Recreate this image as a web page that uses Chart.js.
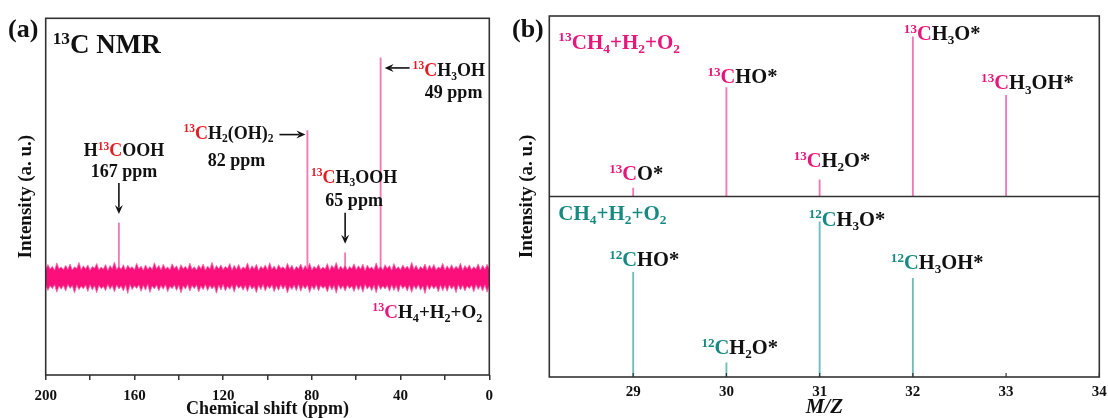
<!DOCTYPE html>
<html>
<head>
<meta charset="utf-8">
<script src="https://cdn.jsdelivr.net/npm/chart.js@4.4.1/dist/chart.umd.min.js"></script>
<style>
  html, body { margin: 0; padding: 0; background: #fff; }
  #wrap { position: relative; width: 1108px; height: 418px; }
  .panel { position: absolute; top: 0; height: 418px; }
  #panelA { left: 0; width: 500px; }
  #panelB { left: 500px; width: 608px; }
</style>
</head>
<body>
<div id="wrap">
  <div class="panel" id="panelA"><canvas id="nmrChart"></canvas></div>
  <div class="panel" id="panelB"><canvas id="msChart"></canvas></div>
</div>
<script>
// ---- (a) 13C NMR ----
const nmrShifts = [167, 82, 65, 49];          // ppm
const nmrHeights = [25, 67, 11.5, 100];       // a.u.
const nmrNames = ['H[^13C]OOH', '[^13C]H_2(OH)_2', '[^13C]H_3OOH', '[^13C]H_3OH'];
const nmrPpmText = ['167 ppm', '82 ppm', '65 ppm', '49 ppm'];

// baseline noise envelope, one value per ppm from 200 down to 0
const noiseUpper = [
  3.9,6.2,4.1,5.4,3.6,6.9,4.3,5.1,3.8,5.8,4.0,6.4,3.7,5.2,4.4,7.1,3.9,5.6,4.2,6.0,
  3.6,5.3,4.5,6.6,3.8,5.0,4.1,6.2,3.5,5.7,4.3,7.3,3.9,5.4,4.0,6.1,3.7,5.9,4.4,5.2,
  3.8,6.7,4.2,5.5,3.6,6.0,4.0,5.3,3.9,7.0,4.3,5.8,3.7,6.3,4.1,5.1,3.8,6.5,4.4,5.6,
  3.5,6.1,4.2,5.4,3.9,6.8,4.0,5.2,3.7,5.9,4.3,6.4,3.6,5.5,4.1,7.2,3.8,5.7,4.2,6.0,
  3.9,5.3,4.4,6.6,3.6,5.8,4.0,6.2,3.8,5.1,4.3,6.9,3.7,5.6,4.1,6.3,3.5,5.4,4.2,6.0,
  3.8,7.0,4.0,5.5,3.7,6.1,4.4,5.2,3.9,6.7,4.1,5.9,3.6,5.3,4.3,6.4,3.8,5.7,4.0,6.8,
  3.7,5.4,4.2,6.2,3.9,5.0,4.1,6.6,3.6,5.8,4.4,7.1,3.8,5.5,4.0,6.0,3.7,5.3,4.3,6.5,
  3.9,5.6,4.1,6.3,3.5,5.9,4.2,5.1,3.8,6.9,4.0,5.4,3.7,6.1,4.4,5.7,3.6,6.6,4.1,5.2,
  3.8,6.0,4.3,5.5,3.9,7.2,4.0,5.8,3.7,5.3,4.2,6.4,3.6,5.9,4.1,6.2,3.8,5.0,4.4,6.7,
  3.7,5.6,4.0,6.1,3.9,5.4,4.2,6.8,3.6,5.7,4.3,6.0,3.8,5.2,4.1,6.5,3.7,5.9,4.0,6.3,
  4.0
];
const noiseLower = [
  -3.2,-5.6,-3.5,-4.8,-3.0,-6.4,-3.6,-5.0,-3.3,-5.9,-2.9,-4.7,-3.4,-6.8,-3.1,-5.3,-3.7,-4.9,-3.2,-6.1,
  -3.0,-5.4,-3.5,-6.6,-3.3,-4.8,-3.8,-5.7,-2.9,-5.1,-3.4,-6.3,-3.1,-4.9,-3.6,-5.8,-3.2,-7.0,-3.0,-5.2,
  -3.5,-4.7,-3.1,-6.0,-3.3,-5.5,-2.8,-6.5,-3.6,-4.9,-3.2,-5.8,-3.4,-5.1,-3.0,-6.2,-3.7,-4.8,-3.1,-5.6,
  -3.3,-6.7,-3.5,-5.0,-2.9,-5.9,-3.4,-4.8,-3.1,-6.3,-3.6,-5.3,-3.0,-5.7,-3.3,-4.9,-3.5,-6.9,-3.2,-5.4,
  -2.9,-5.8,-3.6,-5.1,-3.2,-6.4,-3.0,-4.7,-3.5,-5.5,-3.3,-6.1,-3.1,-5.0,-3.7,-6.6,-3.2,-5.3,-2.9,-5.9,
  -3.4,-4.8,-3.1,-6.2,-3.5,-5.6,-3.0,-5.0,-3.3,-6.8,-3.6,-5.2,-3.2,-5.7,-2.9,-6.0,-3.4,-4.9,-3.1,-6.5,
  -3.5,-5.3,-3.0,-5.8,-3.3,-4.7,-3.7,-6.3,-3.1,-5.4,-3.4,-6.9,-3.0,-5.1,-3.5,-5.9,-3.2,-4.8,-3.6,-6.1,
  -3.1,-5.5,-3.3,-6.4,-2.9,-5.0,-3.5,-5.7,-3.2,-6.7,-3.0,-5.2,-3.6,-4.9,-3.3,-6.0,-3.1,-5.6,-3.4,-6.3,
  -3.0,-4.8,-3.5,-5.9,-3.2,-6.5,-3.4,-5.1,-3.0,-5.5,-3.6,-7.0,-3.1,-5.3,-3.3,-4.9,-3.5,-6.2,-3.2,-5.7,
  -3.4,-6.0,-3.1,-5.0,-3.5,-6.6,-3.0,-5.4,-3.3,-5.8,-3.6,-4.8,-3.2,-6.3,-3.0,-5.2,-3.4,-5.9,-3.1,-6.4,
  -3.3
];

// ---- (b) mass spectra ----
const ms13Mz = [29, 30, 31, 32, 33];
const ms13Heights = [4.6, 60.4, 9.2, 88.4, 56];
const ms13Names = ['[^13C]O*', '[^13C]HO*', '[^13C]H_2O*', '[^13C]H_3O*', '[^13C]H_3OH*'];
const ms12Mz = [29, 30, 31, 32];
const ms12Heights = [58, 7.8, 86, 54.7];
const ms12Names = ['[^12C]HO*', '[^12C]H_2O*', '[^12C]H_3O*', '[^12C]H_3OH*'];

const SERIF = "'Liberation Serif', 'Times New Roman', serif";
const INK = '#111';
const RED = '#e31b23';
const PINK = '#e8167b';
const TEAL = '#168a82';
Chart.defaults.font.family = SERIF;

// markup: [..] accent colour, ^13 superscript digits, _2 subscript char
function parseRich(src) {
  const runs = [];
  let accent = false, i = 0;
  while (i < src.length) {
    const ch = src[i];
    if (ch === '[') { accent = true; i++; continue; }
    if (ch === ']') { accent = false; i++; continue; }
    if (ch === '^') {
      let j = i + 1;
      while (j < src.length && /\d/.test(src[j])) j++;
      runs.push({ text: src.slice(i + 1, j), kind: 'sup', accent });
      i = j; continue;
    }
    if (ch === '_') {
      runs.push({ text: src[i + 1], kind: 'sub', accent });
      i += 2; continue;
    }
    const last = runs[runs.length - 1];
    if (last && last.kind === 'base' && last.accent === accent) last.text += ch;
    else runs.push({ text: ch, kind: 'base', accent });
    i++;
  }
  return runs;
}

function drawRich(ctx, src, x, y, opt) {
  const size = opt.size, small = size * 0.64;
  const runs = parseRich(src);
  const fontFor = r => `${opt.italic ? 'italic ' : ''}bold ${r.kind === 'base' ? size : small}px ${SERIF}`;
  ctx.save();
  let width = 0;
  for (const r of runs) { ctx.font = fontFor(r); r.w = ctx.measureText(r.text).width; width += r.w; }
  let cx = opt.align === 'center' ? x - width / 2 : opt.align === 'right' ? x - width : x;
  ctx.textAlign = 'left';
  ctx.textBaseline = 'alphabetic';
  for (const r of runs) {
    ctx.font = fontFor(r);
    ctx.fillStyle = r.accent ? opt.accent : (opt.color || INK);
    const dy = r.kind === 'sup' ? -size * 0.36 : r.kind === 'sub' ? size * 0.2 : 0;
    ctx.fillText(r.text, cx, y + dy);
    cx += r.w;
  }
  ctx.restore();
}

function drawArrow(ctx, x1, y1, x2, y2) {
  const a = Math.atan2(y2 - y1, x2 - x1), c = Math.cos(a), s = Math.sin(a);
  const head = 9, half = 4;
  ctx.save();
  ctx.strokeStyle = INK;
  ctx.fillStyle = INK;
  ctx.lineWidth = 1.6;
  ctx.beginPath();
  ctx.moveTo(x1, y1);
  ctx.lineTo(x2 - head * 0.7 * c, y2 - head * 0.7 * s);
  ctx.stroke();
  ctx.beginPath();
  ctx.moveTo(x2, y2);
  ctx.lineTo(x2 - head * c + half * s, y2 - head * s - half * c);
  ctx.lineTo(x2 - head * 0.65 * c, y2 - head * 0.65 * s);
  ctx.lineTo(x2 - head * c - half * s, y2 - head * s + half * c);
  ctx.closePath();
  ctx.fill();
  ctx.restore();
}

function strokeFrame(ctx, a) {
  ctx.save();
  ctx.strokeStyle = '#333';
  ctx.lineWidth = 1.6;
  ctx.strokeRect(a.left, a.top, a.right - a.left, a.bottom - a.top);
  ctx.restore();
}

const boldFont = size => ({ family: SERIF, weight: 'bold', size, lineHeight: 1 });

// keep the plot box fixed: no extra room for overhanging end labels
const noOverhang = s => { s.paddingLeft = 0; s.paddingRight = 0; };

// ---------- panel (a) ----------
const nmrPlugin = {
  id: 'nmrNotes',
  afterDraw(chart) {
    const { ctx, chartArea: a, scales: { x, y } } = chart;
    strokeFrame(ctx, a);
    drawRich(ctx, '(a)', 8, 37, { size: 26 });
    drawRich(ctx, '^13C NMR', a.left + 7, a.top + 35, { size: 27 });

    const px = nmrShifts.map(v => x.getPixelForValue(v));
    const py = nmrHeights.map(v => y.getPixelForValue(v));
    const lab = { size: 18, accent: RED };

    // formic acid, 167 ppm
    drawRich(ctx, nmrNames[0], px[0] + 5, py[0] - 67, { ...lab, align: 'center' });
    drawRich(ctx, nmrPpmText[0], px[0] + 5, py[0] - 46, { ...lab, align: 'center' });
    drawArrow(ctx, px[0], py[0] - 40, px[0], py[0] - 9);
    // methanediol, 82 ppm
    drawRich(ctx, nmrNames[1], px[1] - 124, py[1] + 8, lab);
    drawRich(ctx, nmrPpmText[1], px[1] - 71, py[1] + 35, { ...lab, align: 'center' });
    drawArrow(ctx, px[1] - 28, py[1] + 4, px[1] - 2, py[1] + 4);
    // methyl hydroperoxide, 65 ppm
    drawRich(ctx, nmrNames[2], px[2] + 9, py[2] - 70, { ...lab, align: 'center' });
    drawRich(ctx, nmrPpmText[2], px[2] + 9, py[2] - 47, { ...lab, align: 'center' });
    drawArrow(ctx, px[2], py[2] - 40, px[2], py[2] - 9);
    // methanol, 49 ppm
    drawArrow(ctx, px[3] + 29, py[3] + 10, px[3] + 4, py[3] + 10);
    drawRich(ctx, nmrNames[3], px[3] + 32, py[3] + 18, lab);
    drawRich(ctx, nmrPpmText[3], px[3] + 73, py[3] + 40, { ...lab, align: 'center' });

    drawRich(ctx, '[^13C]H_4+H_2+O_2', a.right - 7, 318, { size: 19, accent: PINK, align: 'right' });
  }
};

const noisePpm = noiseUpper.map((_, i) => 200 - i);

new Chart('nmrChart', {
  type: 'line',
  data: {
    datasets: [
      {
        label: 'noise top',
        data: noisePpm.map((p, i) => ({ x: p, y: noiseUpper[i] })),
        borderColor: '#f56aa9', borderWidth: 0.8, pointRadius: 0, tension: 0, fill: false, order: 1
      },
      {
        label: 'noise bottom',
        data: noisePpm.map((p, i) => ({ x: p, y: noiseLower[i] })),
        borderColor: '#f56aa9', borderWidth: 0.8, pointRadius: 0, tension: 0,
        fill: '-1', backgroundColor: '#fc0f7b', order: 1
      },
      {
        type: 'bar',
        label: 'peaks',
        data: nmrShifts.map((s, i) => ({ x: s, y: nmrHeights[i] })),
        backgroundColor: '#f07ab5', barThickness: 1.2, grouped: false, order: 3
      }
    ]
  },
  options: {
    responsive: true,
    maintainAspectRatio: false,
    animation: false,
    layout: { padding: { top: 18.3, right: 10.7, left: 0, bottom: 0 } },
    plugins: { legend: { display: false }, tooltip: { enabled: false } },
    scales: {
      x: {
        type: 'linear', reverse: true, min: 0, max: 200, offset: false,
        grid: { display: true, drawOnChartArea: false, drawTicks: true, tickLength: 5, color: '#333', lineWidth: 1.5, offset: false },
        border: { display: false },
        ticks: {
          stepSize: 20, autoSkip: false, maxRotation: 0, padding: 9, color: INK, font: boldFont(15),
          callback: v => (v % 40 === 0 ? v : '')
        },
        title: { display: true, text: 'Chemical shift (ppm)', color: INK, font: boldFont(18), padding: { top: 0, bottom: 0 } },
        afterFit: s => { s.height = 43; noOverhang(s); }
      },
      y: {
        min: -44, max: 118,
        grid: { display: false }, border: { display: false }, ticks: { display: false },
        title: { display: true, text: 'Intensity (a. u.)', color: INK, font: boldFont(19), padding: { top: 17, bottom: 0 } },
        afterFit: s => { s.width = 45.7; }
      }
    }
  },
  plugins: [nmrPlugin]
});

// ---------- panel (b) ----------
const ms13Offsets = [[-24, -8], [-19, -4], [-26, -13], [-9, 3], [-25, -6]];
const ms12Offsets = [[-24, -6], [-25, -9], [-11, 4], [-22, -9]];

const msPlugin = {
  id: 'msNotes',
  afterDraw(chart) {
    const { ctx, chartArea: a, scales: { x, yTop, yBot } } = chart;
    strokeFrame(ctx, a);
    // divider between the two spectra
    ctx.save();
    ctx.strokeStyle = '#333';
    ctx.lineWidth = 1.6;
    ctx.beginPath();
    ctx.moveTo(a.left, yTop.bottom);
    ctx.lineTo(a.right, yTop.bottom);
    ctx.stroke();
    // small inward ticks
    ctx.lineWidth = 1.2;
    x.ticks.forEach((t, i) => {
      const tx = x.getPixelForTick(i);
      ctx.beginPath();
      ctx.moveTo(tx, a.bottom);
      ctx.lineTo(tx, a.bottom - 4);
      ctx.stroke();
    });
    // shared y title
    ctx.translate(27, (a.top + a.bottom) / 2);
    ctx.rotate(-Math.PI / 2);
    ctx.font = `bold 19px ${SERIF}`;
    ctx.fillStyle = INK;
    ctx.textAlign = 'center';
    ctx.textBaseline = 'middle';
    ctx.fillText('Intensity (a. u.)', 0, 0);
    ctx.restore();

    drawRich(ctx, '(b)', 12, 37, { size: 26 });
    drawRich(ctx, '[^13CH_4+H_2+O_2]', a.left + 9, a.top + 33, { size: 21, accent: PINK });
    drawRich(ctx, '[CH_4+H_2+O_2]', a.left + 9, yTop.bottom + 23, { size: 21, accent: TEAL });

    ms13Mz.forEach((m, i) => {
      const tx = x.getPixelForValue(m), ty = yTop.getPixelForValue(ms13Heights[i]);
      drawRich(ctx, ms13Names[i], tx + ms13Offsets[i][0], ty + ms13Offsets[i][1], { size: 20.5, accent: PINK });
    });
    ms12Mz.forEach((m, i) => {
      const tx = x.getPixelForValue(m), ty = yBot.getPixelForValue(ms12Heights[i]);
      drawRich(ctx, ms12Names[i], tx + ms12Offsets[i][0], ty + ms12Offsets[i][1], { size: 20.5, accent: TEAL });
    });
  }
};

const msY = {
  min: 0, max: 100, position: 'left', stack: 'ms', stackWeight: 1,
  grid: { display: false }, border: { display: false }, ticks: { display: false },
  afterFit: s => { s.width = 49.3; }
};

new Chart('msChart', {
  type: 'bar',
  data: {
    datasets: [
      {
        label: '13C',
        data: ms13Mz.map((m, i) => ({ x: m, y: ms13Heights[i] })),
        yAxisID: 'yTop', backgroundColor: '#ef79b6', barThickness: 1.2, grouped: false
      },
      {
        label: '12C',
        data: ms12Mz.map((m, i) => ({ x: m, y: ms12Heights[i] })),
        yAxisID: 'yBot', backgroundColor: '#6fbcbb', barThickness: 1.2, grouped: false
      }
    ]
  },
  options: {
    responsive: true,
    maintainAspectRatio: false,
    animation: false,
    layout: { padding: { top: 16, right: 8.7, left: 0, bottom: 0 } },
    plugins: { legend: { display: false }, tooltip: { enabled: false } },
    scales: {
      x: {
        type: 'linear', min: 28.1, max: 34, offset: false,
        grid: { display: false, drawTicks: false, offset: false }, border: { display: false },
        ticks: { stepSize: 1, includeBounds: false, autoSkip: false, maxRotation: 0, padding: 8, color: INK, font: boldFont(15) },
        title: { display: true, text: 'M/Z', color: INK, font: { family: SERIF, weight: 'bold', style: 'italic', size: 21, lineHeight: 1 }, padding: { top: 0, bottom: 0 } },
        afterFit: s => { s.height = 41; noOverhang(s); }
      },
      yBot: { ...msY },
      yTop: { ...msY }
    }
  },
  plugins: [msPlugin]
});
</script>
</body>
</html>
